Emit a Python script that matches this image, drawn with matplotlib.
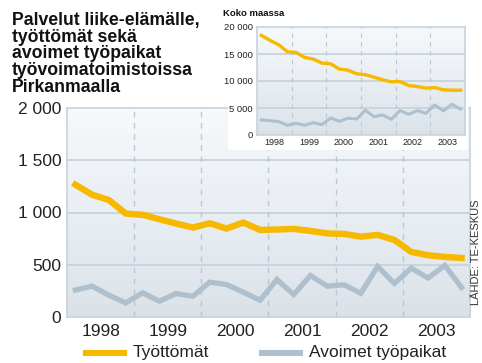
import numpy as np
import matplotlib
matplotlib.use("Agg")
import matplotlib.pyplot as plt
from matplotlib.colors import LinearSegmentedColormap
from matplotlib.patches import Rectangle

plt.rcParams['font.family'] = ['Liberation Sans', 'DejaVu Sans']

# quarterly figures, 1998 Q1 .. 2003 Q4
years = [1998, 1999, 2000, 2001, 2002, 2003]
quarters = [1, 2, 3, 4]

# Pirkanmaa, business services
tyottomat = [1266, 1170, 1119, 990, 978, 936, 894, 856, 897, 846, 904, 833,
             837, 843, 824, 800, 795, 769, 786, 737, 623, 591, 575, 565]
avoimet = [258, 295, 208, 135, 231, 151, 224, 199, 333, 311, 237, 160,
           359, 215, 397, 295, 308, 227, 484, 321, 468, 373, 494, 282]

# whole country
koko_tyottomat = [18450, 17520, 16720, 15420, 15290, 14365, 14055, 13310,
                  13190, 12200, 12010, 11330, 11180, 10710, 10220, 9840,
                  9910, 9160, 8980, 8670, 8790, 8360, 8300, 8300]
koko_avoimet = [2790, 2660, 2480, 1800, 2170, 1800, 2290, 1920,
                3160, 2540, 3100, 2970, 4580, 3400, 3715, 2910,
                4520, 3840, 4520, 4020, 5570, 4460, 5700, 4770]

main_ticks = [0, 500, 1000, 1500, 2000]
main_ticklabels = ['0', '500', '1 000', '1 500', '2 000']
koko_ticks = [0, 5000, 10000, 15000, 20000]
koko_ticklabels = ['0', '5 000', '10 000', '15 000', '20 000']

title_lines = ['Palvelut liike-elämälle,', 'työttömät sekä', 'avoimet työpaikat',
               'työvoimatoimistoissa', 'Pirkanmaalla']

x = [y + (q - 0.5) / 4 for y in years for q in quarters]

ORANGE = '#f6b900'
GREYBLUE = '#aec0cd'
GRID = '#c6d3dd'
DASH = '#b9c8d4'

bg = LinearSegmentedColormap.from_list(
    'bg', ['#dae2e8', '#e2e8ee', '#e9eef3', '#f0f3f7', '#f7f9fb'])

W, H = 482, 363
fig = plt.figure(figsize=(W / 100, H / 100), dpi=100)
fig.patch.set_facecolor('white')


def px_axes(left, top, right, bottom, **kw):
    return fig.add_axes([left / W, 1 - bottom / H, (right - left) / W, (bottom - top) / H], **kw)


def dress(ax, ylim, ticks, labels, fsy, fsx, pady, padx, dash_lw):
    ax.imshow(np.linspace(0, 1, 256).reshape(-1, 1)[::-1], cmap=bg, aspect='auto',
              extent=[0, 1, 0, 1], transform=ax.transAxes, zorder=0)
    ax.set_xlim(years[0], years[-1] + 1)
    ax.set_ylim(*ylim)
    ax.set_yticks(ticks)
    ax.set_yticklabels(labels, fontsize=fsy, color='#222222')
    ax.set_xticks([y + 0.5 for y in years])
    ax.set_xticklabels([str(y) for y in years], fontsize=fsx, color='#222222')
    ax.tick_params(length=0, pad=pady, axis='y')
    ax.tick_params(length=0, pad=padx, axis='x')
    for t in ticks[1:-1]:
        ax.axhline(t, color=GRID, lw=1.3, zorder=1)
    for y in years[1:]:
        ax.axvline(y, color=DASH, lw=dash_lw, ls=(0, (4, 4)), zorder=1)
    for s in ax.spines.values():
        s.set_color(GRID)
        s.set_linewidth(1.2)


# main chart
ax = px_axes(67, 108, 470, 317)
dress(ax, (0, 2000), main_ticks, main_ticklabels, 12.5, 12.5, 4, 5, 1.0)
ax.plot(x, avoimet, color=GREYBLUE, lw=3.8, solid_joinstyle='miter', zorder=3)
ax.plot(x, tyottomat, color=ORANGE, lw=4.6, solid_joinstyle='miter', zorder=4)

# plain panel under the inset
fig.patches.append(Rectangle((228 / W, 1 - 150 / H), 240 / W, 43 / H,
                             transform=fig.transFigure, facecolor='white',
                             edgecolor='none', zorder=1))

# inset: whole country
ins = px_axes(257, 27, 465, 135)
ins.set_zorder(2)
dress(ins, (0, 20000), koko_ticks, koko_ticklabels, 6.8, 6.5, 3, 2, 0.8)
ins.plot(x, koko_avoimet, color=GREYBLUE, lw=2.2, zorder=3)
ins.plot(x, koko_tyottomat, color=ORANGE, lw=2.4, zorder=4)
fig.text(223 / W, 1 - 13 / H, 'Koko maassa', fontsize=6.8, fontweight='bold',
         va='center', ha='left', color='#111111')

# title
for i, line in enumerate(title_lines):
    fig.text(12 / W, 1 - (25 + 16.7 * i) / H, line, fontsize=12.7,
             fontweight='bold', va='baseline', ha='left', color='#111111')

# legend
fig.lines.append(plt.Line2D([86 / W, 124 / W], [1 - 353 / H] * 2, color=ORANGE,
                            lw=4.4, transform=fig.transFigure))
fig.text(133 / W, 1 - 353 / H, 'Työttömät', fontsize=12.5, va='center',
         ha='left', color='#222222')
fig.lines.append(plt.Line2D([262 / W, 300 / W], [1 - 353 / H] * 2, color=GREYBLUE,
                            lw=4.4, transform=fig.transFigure))
fig.text(309 / W, 1 - 353 / H, 'Avoimet työpaikat', fontsize=12.5, va='center',
         ha='left', color='#222222')

# source
fig.text(476 / W, 1 - 252 / H, 'LÄHDE: TE-KESKUS', rotation=90, fontsize=8,
         va='center', ha='center', color='#333333')

fig.savefig('out.png', dpi=100)
